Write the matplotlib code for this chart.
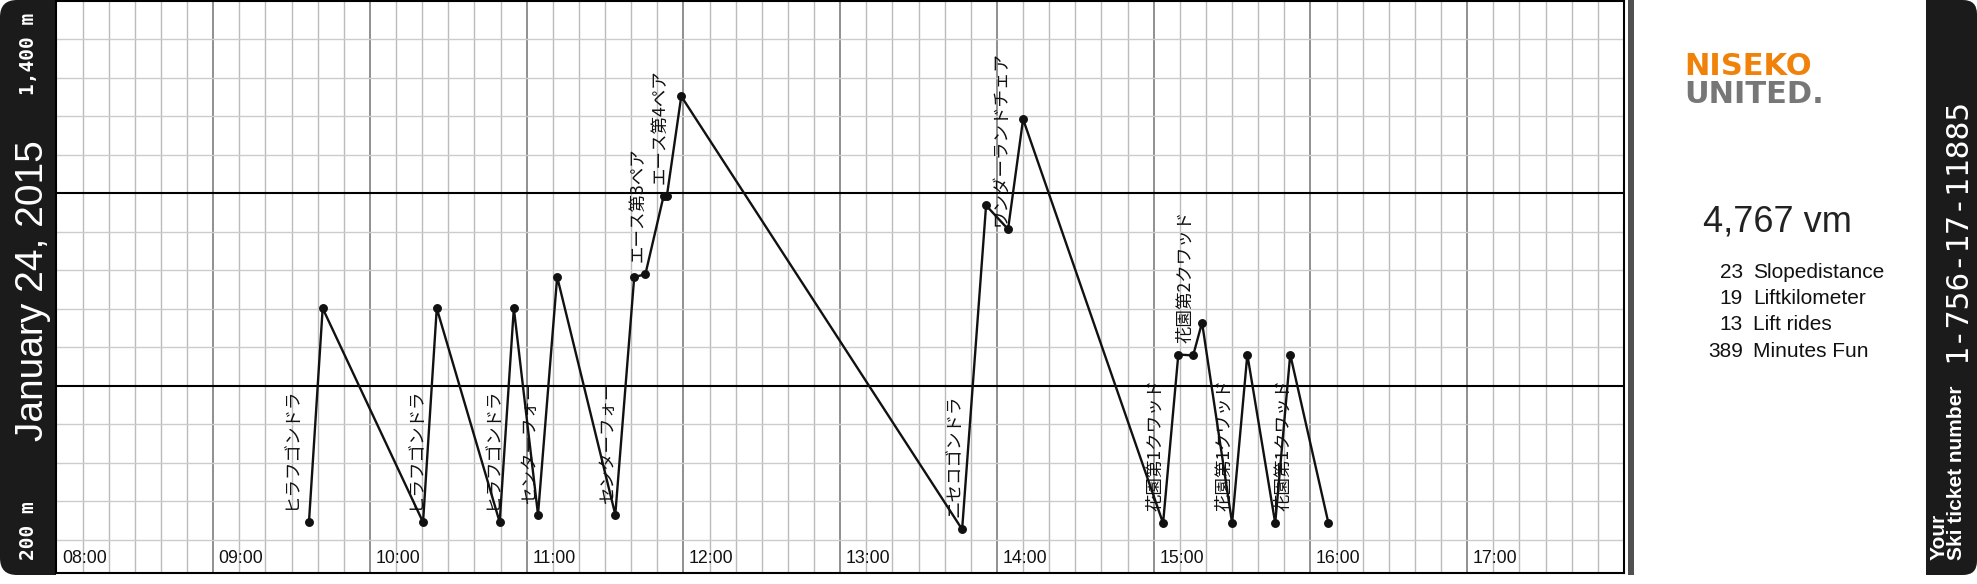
import matplotlib.pyplot as plt
import matplotlib.transforms as mtransforms
from matplotlib.patches import FancyBboxPatch, Rectangle
import numpy as np

# track of the day: time stamp and altitude (m) of every lift bottom/top
times = ["09:36:40", "09:41:55", "10:20:20", "10:25:35", "10:49:40", "10:55:05",
         "11:04:20", "11:11:40", "11:33:55", "11:41:10", "11:45:25", "11:52:25",
         "11:53:40", "11:59:10", "13:46:40", "13:55:50", "14:04:15", "14:10:00",
         "15:03:35", "15:09:25", "15:15:05", "15:18:30", "15:30:00", "15:35:50",
         "15:46:30", "15:52:15", "16:06:50"]
altitudes = [306, 755, 306, 755, 306, 755,
             322, 821, 322, 821, 826, 991,
             991, 1200, 291, 971, 921, 1152,
             304, 658, 656, 725, 304, 658,
             304, 658, 305]

# lift rides (label, time, altitude)
lift_names = ["ヒラフゴンドラ", "ヒラフゴンドラ", "ヒラフゴンドラ", "センターフォー", "センターフォー",
              "エース第3ペア", "エース第4ペア", "ニセコゴンドラ", "ワンダーランドチェア",
              "花園第1クワッド", "花園第2クワッド", "花園第1クワッド", "花園第1クワッド"]
lift_times = ["09:32:45", "10:20:20", "10:49:40", "11:04:20", "11:33:55",
              "11:45:25", "11:53:40", "13:46:40", "14:04:15",
              "15:03:35", "15:15:05", "15:30:00", "15:52:40"]
lift_alts = [306, 306, 306, 322, 322, 826, 991, 291, 903, 304, 656, 304, 304]

hour_labels = ["08:00", "09:00", "10:00", "11:00", "12:00",
               "13:00", "14:00", "15:00", "16:00", "17:00"]

date_text = "January 24, 2015"
alt_low, alt_high = "200 m", "1,400 m"
vertical_meters = "4,767 vm"
stat_values = ["23", "19", "13", "389"]
stat_names = ["Slopedistance", "Liftkilometer", "Lift rides", "Minutes Fun"]
ticket_caption = "Your\nSki ticket number"
ticket_number = "1-756-17-11885"


def to_hours(s):
    h, m, sec = (int(v) for v in s.split(":"))
    return h + m / 60 + sec / 3600


W, H = 1977, 584
fig = plt.figure(figsize=(W / 100, H / 100), dpi=100)
px = mtransforms.IdentityTransform()

# side panels
ink = "#1b1b1b"
fig.patches.append(FancyBboxPatch((0, H - 575), 55, 575, boxstyle="round,pad=0,rounding_size=17",
                                  transform=px, fc=ink, ec="none", zorder=-1))
fig.patches.append(Rectangle((30, H - 575), 26, 575, transform=px, fc=ink, ec="none", zorder=-1))
fig.patches.append(FancyBboxPatch((1926, H - 575), 51, 575, boxstyle="round,pad=0,rounding_size=14",
                                  transform=px, fc=ink, ec="none", zorder=-1))
fig.patches.append(Rectangle((1926, H - 575), 24, 575, transform=px, fc=ink, ec="none", zorder=-1))
fig.patches.append(Rectangle((1627.7, H - 575), 6.6, 575, transform=px, fc="#505050", ec="none", zorder=-1))

ax = fig.add_axes([56.4 / W, (H - 572.7) / H, (1624 - 56.4) / W, 571.7 / H])
ax.set_xlim(8, 18)
ax.set_ylim(200, 1400)

# graph paper grid
for t in np.arange(8, 18, 1 / 6)[1:]:
    hour = abs(t - round(t)) < 1e-6
    ax.axvline(t, color="#777777" if hour else "#bbbbbb", lw=1.15 if hour else 1.0, zorder=1)
step = 80.8
for k, y in enumerate(np.arange(1400, 200, -step)):
    if k == 0:
        continue
    major = k % 5 == 0
    ax.axhline(y, color="black" if major else "#cccccc", lw=1.5 if major else 1.0, zorder=2 if major else 1)

x = [to_hours(t) for t in times]
ax.plot(x, altitudes, color="#111111", lw=1.7, marker="o", ms=5.4, zorder=3)

for name, t, a in zip(lift_names, lift_times, lift_alts):
    ax.annotate(name, (to_hours(t), a), xytext=(1.3, 12), textcoords="offset pixels",
                rotation=90, rotation_mode="anchor", ha="left", va="bottom",
                fontsize=12.6, family=["Noto Sans CJK JP", "DejaVu Sans"], color="#111111", zorder=4)

blend = mtransforms.blended_transform_factory(ax.transData, ax.transAxes)
lab_tr = mtransforms.offset_copy(blend, fig, x=5.5, y=9.4, units="dots")
for i, lab in enumerate(hour_labels):
    ax.text(8 + i, 0, lab, transform=lab_tr, ha="left", va="baseline",
            fontsize=12.8, family="Liberation Sans", color="#111111")

ax.set_xticks([])
ax.set_yticks([])
for s in ax.spines.values():
    s.set_linewidth(1.5)
    s.set_color("black")
    s.set_zorder(5)

# left panel texts
fig.text(42.7, H - 290.7, date_text, transform=px, rotation=90, rotation_mode="anchor",
         ha="center", va="baseline", fontsize=28, family="Liberation Sans", color="white")
fig.text(34.5, H - 13, alt_high, transform=px, rotation=90, rotation_mode="anchor",
         ha="right", va="baseline", fontsize=14, family="DejaVu Sans Mono", weight="bold", color="white")
fig.text(34.5, H - 560, alt_low, transform=px, rotation=90, rotation_mode="anchor",
         ha="left", va="baseline", fontsize=14, family="DejaVu Sans Mono", weight="bold", color="white")

# logo and stats
fig.text(1684, H - 75, "NISEKO", transform=px, ha="left", va="baseline", fontsize=22,
         family="DejaVu Sans", weight="bold", color="#F0820A")
fig.text(1684, H - 103.3, "UNITED.", transform=px, ha="left", va="baseline", fontsize=22,
         family="DejaVu Sans", weight="bold", color="#777777")
fig.text(1777.5, H - 231.7, vertical_meters, transform=px, ha="center", va="baseline",
         fontsize=26, family="Liberation Sans", color="#222222")
for i, (v, n) in enumerate(zip(stat_values, stat_names)):
    yb = H - (277.5 + 26.4 * i)
    fig.text(1742.7, yb, v, transform=px, ha="right", va="baseline", fontsize=15,
             family="Liberation Sans", color="#111111")
    fig.text(1753, yb, n, transform=px, ha="left", va="baseline", fontsize=15,
             family="Liberation Sans", color="#111111")

# right panel texts
fig.text(1965.5, H - 361.7, ticket_number, transform=px, rotation=90, rotation_mode="anchor",
         ha="left", va="baseline", fontsize=22.5, family="DejaVu Sans Mono", color="white")
fig.text(1966, H - 560, ticket_caption, transform=px, rotation=90, rotation_mode="anchor",
         ha="left", va="bottom", linespacing=0.9, fontsize=15, family="Liberation Sans",
         weight="bold", color="white")

fig.savefig("out.png", dpi=100, facecolor="white")
